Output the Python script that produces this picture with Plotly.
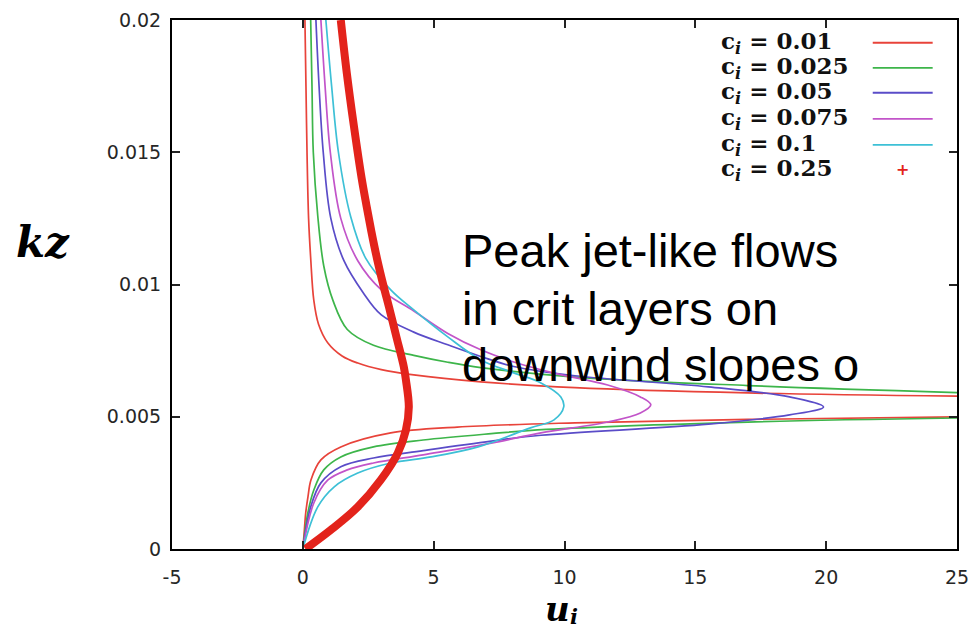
import plotly.graph_objects as go

# ---------------- data ----------------
# c_i = 0.01 (red): lower branch, break, upper branch (its peak lies off the chart)
u_c001 = [0, 0.05, 0.11, 0.2, 0.31, 0.69, 1.45, 3.36, 5.9, 10.4, 17, 25.5,
          None,
          25.5, 17, 10.4, 6.8, 4.24, 3.0, 2.1, 1.5, 0.95, 0.6, 0.42, 0.3, 0.22, 0.16, 0.12, 0.08]
z_c001 = [0, 0.0006, 0.00136, 0.002, 0.00261, 0.00337, 0.00386, 0.00439, 0.00461, 0.00477, 0.0049, 0.005,
          None,
          0.00577, 0.0059, 0.0061, 0.00632, 0.00658, 0.00678, 0.00703, 0.0073, 0.0078, 0.0085, 0.0094,
          0.011, 0.0125, 0.015, 0.0175, 0.02]

# c_i = 0.025 (green)
u_c0025 = [0, 0.04, 0.19, 0.42, 0.8, 1.45, 2.7, 4.6, 7.2, 9.3, 17, 25.5,
           None,
           25.5, 17, 10.4, 6.8, 5.54, 4.24, 2.7, 1.7, 1.15, 0.8, 0.57, 0.4, 0.35, 0.3]
z_c0025 = [0, 0.00034, 0.00136, 0.00223, 0.00299, 0.00348, 0.00386, 0.00412, 0.00436, 0.00452, 0.0048, 0.00496,
           None,
           0.0059, 0.00618, 0.0065, 0.00686, 0.00706, 0.00732, 0.0077, 0.0083, 0.0094, 0.0107, 0.0126,
           0.015, 0.0175, 0.02]

# c_i = 0.05 (blue)
u_c005 = [0, 0.3, 0.69, 1.45, 2.7, 4.6, 7.2, 9.1, 15.5, 18.6, 19.9,
          18.6, 15.5, 10.4, 8.06, 6.8, 5.54, 4.24, 3.0, 2.3, 1.57, 1.07, 0.78, 0.62, 0.5]
z_c005 = [0, 0.00159, 0.0025, 0.00311, 0.00344, 0.00372, 0.00408, 0.0043, 0.00472, 0.00507, 0.00537,
          0.00575, 0.00613, 0.00655, 0.0069, 0.00728, 0.00772, 0.0082, 0.00885, 0.0097, 0.0109, 0.0125,
          0.015, 0.0175, 0.02]

# c_i = 0.075 (magenta)
u_c0075 = [0, 0.42, 0.95, 1.7, 2.7, 4.6, 7.2, 9.1, 11.65, 12.9, 13.3,
           12.9, 11.65, 9.6, 8.06, 6.8, 5.54, 4.24, 3.0, 2.1, 1.45, 1.05, 0.85, 0.69]
z_c0075 = [0, 0.00174, 0.0026, 0.00299, 0.00325, 0.00356, 0.004, 0.00439, 0.0048, 0.00514, 0.00545,
           0.00575, 0.0062, 0.00665, 0.00707, 0.00753, 0.00815, 0.009, 0.0098, 0.0109, 0.0125,
           0.015, 0.0175, 0.02]

# c_i = 0.1 (cyan)
u_c01 = [0, 0.57, 1.2, 2.1, 3.36, 4.9, 6.7, 8.7, 9.6, 9.97,
         9.86, 9.1, 8.06, 6.8, 5.54, 4.24, 3.36, 2.4, 1.83, 1.36, 1.1, 0.88]
z_c01 = [0, 0.00159, 0.00235, 0.00287, 0.00325, 0.00348, 0.00386, 0.00458, 0.00488, 0.00537,
         0.00575, 0.00628, 0.00666, 0.00715, 0.00802, 0.00904, 0.0098, 0.011, 0.01256, 0.015, 0.0175, 0.02]

# c_i = 0.25 (red crosses)
u_c025 = [0.1, 1.07, 2.1, 2.98, 3.63, 3.94, 4.05, 3.94, 3.86, 3.58, 3.33, 3.07, 2.83, 2.62,
          2.43, 2.25, 1.95, 1.68, 1.45]
z_c025 = [0, 0.00072, 0.00159, 0.00261, 0.00363, 0.0045, 0.00537, 0.00639, 0.00688, 0.008,
          0.009, 0.010, 0.011, 0.012, 0.013, 0.014, 0.016, 0.018, 0.02]

series_labels = ["0.01", "0.025", "0.05", "0.075", "0.1", "0.25"]
series_colors = ["#e8433a", "#3db54a", "#5a4cc8", "#c254c9", "#3dc0d6", "#e3231b"]

x_ticks = [-5, 0, 5, 10, 15, 20, 25]
x_tick_text = ["-5", "0", "5", "10", "15", "20", "25"]
y_ticks = [0, 0.005, 0.01, 0.015, 0.02]
y_tick_text = ["0", "0.005", "0.01", "0.015", "0.02"]

note_lines = ["Peak jet-like flows", "in crit layers on", "downwind slopes o"]

# ---------------- figure ----------------
fig = go.Figure()
curves = [(u_c001, z_c001), (u_c0025, z_c0025), (u_c005, z_c005),
          (u_c0075, z_c0075), (u_c01, z_c01)]
for (uu, zz), col, lab in zip(curves, series_colors[:5], series_labels[:5]):
    fig.add_trace(go.Scatter(x=uu, y=zz, mode="lines", name=lab,
                             line=dict(color=col, width=1.7, shape="spline", smoothing=1.0),
                             connectgaps=False, hoverinfo="skip"))
fig.add_trace(go.Scatter(x=u_c025, y=z_c025, mode="lines", name=series_labels[5],
                         line=dict(color=series_colors[5], width=8, shape="spline", smoothing=1.0),
                         hoverinfo="skip"))

axis_common = dict(showgrid=False, zeroline=False, showline=True, linecolor="black",
                   linewidth=2, mirror="ticks", ticks="inside", ticklen=8, tickwidth=2,
                   tickcolor="#222",
                   tickfont=dict(family="DejaVu Sans", size=19, color="#262626"))
fig.update_xaxes(range=[-5, 25], tickvals=x_ticks, ticktext=x_tick_text,
                 ticklabelstandoff=10, **axis_common)
fig.update_yaxes(range=[0, 0.02], tickvals=y_ticks, ticktext=y_tick_text,
                 ticklabelstandoff=5, **axis_common)

annotations = []
shapes = []
# custom legend (text on the left, sample on the right)
leg_x_text = 15.95
leg_rows = [0.01914, 0.01819, 0.01725, 0.01626, 0.01528, 0.01433]
for i, (lab, col) in enumerate(zip(series_labels, series_colors)):
    annotations.append(dict(x=leg_x_text, y=leg_rows[i], xref="x", yref="y",
                            xanchor="left", yanchor="middle", showarrow=False,
                            text="<b>c<sub><i>i</i></sub> = " + lab + "</b>",
                            borderpad=0,
                            font=dict(family="DejaVu Serif", size=23, color="#111")))
    if i < 5:
        shapes.append(dict(type="line", xref="x", yref="y", x0=21.78, x1=24.07,
                           y0=leg_rows[i], y1=leg_rows[i], line=dict(color=col, width=1.8)))
    else:
        annotations.append(dict(x=22.93, y=leg_rows[i], xref="x", yref="y",
                                xanchor="center", yanchor="middle", showarrow=False,
                                text="<b>+</b>", font=dict(family="DejaVu Sans", size=16, color=col)))

# the overlaid note
note_y = [0.01127, 0.00908, 0.00696]
for t, yy in zip(note_lines, note_y):
    annotations.append(dict(x=6.0, y=yy, xref="x", yref="y", xanchor="left", yanchor="middle",
                            showarrow=False, text=t,
                            font=dict(family="Liberation Sans", size=47, color="black")))

# axis titles
annotations.append(dict(x=-0.164, y=0.58, xref="paper", yref="paper", xanchor="center",
                        yanchor="middle", showarrow=False, text="<b><i>kz</i></b>",
                        font=dict(family="DejaVu Serif", size=42, color="black")))
annotations.append(dict(x=0.4917, y=-0.113, xref="paper", yref="paper", xanchor="center",
                        yanchor="middle", showarrow=False, text="<b><i>u</i></b>",
                        borderpad=0,
                        font=dict(family="DejaVu Serif", size=34, color="black")))
annotations.append(dict(x=0.5125, y=-0.128, xref="paper", yref="paper", xanchor="center",
                        yanchor="middle", showarrow=False, text="<b><i>i</i></b>",
                        borderpad=0,
                        font=dict(family="DejaVu Serif", size=21, color="black")))

fig.update_layout(width=974, height=633, showlegend=False,
                  margin=dict(l=172, r=17, t=20, b=84, autoexpand=False),
                  plot_bgcolor="white", paper_bgcolor="white",
                  annotations=annotations, shapes=shapes)

fig.write_html("out.html", include_plotlyjs=True, config={"displayModeBar": False})
